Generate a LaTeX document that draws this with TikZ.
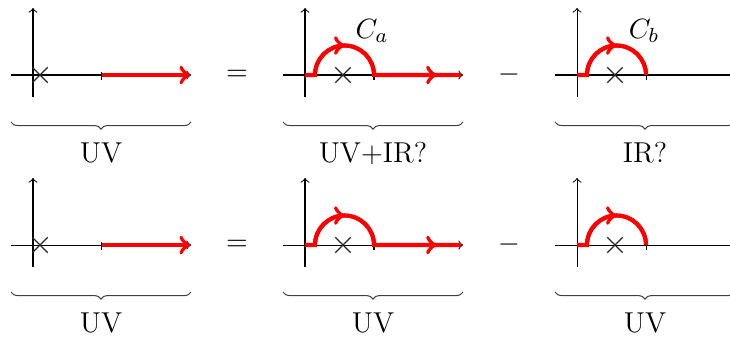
\documentclass[tikz,border=0pt]{standalone}
\usepackage{amsmath}
\usetikzlibrary{shapes.misc,decorations.pathreplacing,decorations.markings}
\tikzset{
axis/.style={black,line width=0.4pt,->},
tickmark/.style={black,line width=0.4pt},
contour/.style={red,line width=1.6pt},
midarrow/.style={postaction={decorate},decoration={markings,mark=at position #1 with {\arrow{>}}}},
midarrow/.default=0.5,
pole/.style={draw=black!85,cross out,minimum size=5.5pt,inner sep=0pt,line width=0.5pt},
brace/.style={decorate,decoration={brace,mirror,amplitude=2.8pt},black!75,line width=0.4pt},
blabel/.style={font=\fontsize{11.3}{13.5}\selectfont},
clabel/.style={font=\fontsize{11.3}{13.5}\selectfont}
}

\begin{document}
\begin{tikzpicture}[x=0.138cm,y=0.138cm]
\useasboundingbox (0,-26.1) rectangle (73,7.5);

% top row
\begin{scope}[shift={(3.3,0)}]
\draw[axis] (-2.2,0) -- (15.8,0);
\draw[axis] (0,-2.2) -- (0,6.7);
\draw[tickmark] (6.85,0.3) -- (6.85,-0.5);
\node[pole] (pa1) at (0.7,0) {};
\draw[contour,->] (6.85,0) -- (15.7,0);
\draw[brace] (-2.2,-4.7) -- (15.8,-4.7);
\node[blabel] (la1) at (6.8,-7.8) {UV};
\end{scope}
\node[blabel] (eqa) at (23.7,0) {$=$};
\begin{scope}[shift={(30.5,0)}]
\draw[axis] (-2.2,0) -- (15.8,0);
\draw[axis] (0,-2.2) -- (0,6.7);
\draw[tickmark] (6.9,0.3) -- (6.9,-0.5);
\node[pole] (pa2) at (3.8,0) {};
\draw[contour] (0,0) -- (1,0) arc[start angle=180,end angle=0,radius=2.95] -- (15.6,0);
\draw[contour,midarrow] (1,0) arc[start angle=180,end angle=0,radius=2.95];
\draw[contour,midarrow=0.72] (6.9,0) -- (15.6,0);
\node[clabel] (ca) at (6.7,4.4) {$C_a$};
\draw[brace] (-2.2,-4.7) -- (15.8,-4.7);
\node[blabel] (la2) at (6.8,-7.8) {UV+IR?};
\end{scope}
\node[blabel] (mia) at (50.9,0) {$-$};
\begin{scope}[shift={(57.7,0)}]
\draw[axis] (-2.2,0) -- (15.8,0);
\draw[axis] (0,-2.2) -- (0,6.7);
\draw[tickmark] (6.9,0.3) -- (6.9,-0.5);
\node[pole] (pa3) at (3.8,0) {};
\draw[contour] (0,0) -- (1,0) arc[start angle=180,end angle=0,radius=2.95];
\draw[contour,midarrow] (1,0) arc[start angle=180,end angle=0,radius=2.95];
\node[clabel] (cb) at (6.7,4.4) {$C_b$};
\draw[brace] (-2.2,-4.7) -- (15.8,-4.7);
\node[blabel] (la3) at (6.8,-7.8) {IR?};
\end{scope}

% bottom row
\begin{scope}[shift={(3.3,-17)}]
\draw[axis] (-2.2,0) -- (15.8,0);
\draw[axis] (0,-2.2) -- (0,6.7);
\draw[tickmark] (6.85,0.3) -- (6.85,-0.5);
\node[pole] (pb1) at (0.7,0) {};
\draw[contour,->] (6.85,0) -- (15.7,0);
\draw[brace] (-2.2,-4.7) -- (15.8,-4.7);
\node[blabel] (lb1) at (6.8,-7.8) {UV};
\end{scope}
\node[blabel] (eqb) at (23.7,-17) {$=$};
\begin{scope}[shift={(30.5,-17)}]
\draw[axis] (-2.2,0) -- (15.8,0);
\draw[axis] (0,-2.2) -- (0,6.7);
\draw[tickmark] (6.9,0.3) -- (6.9,-0.5);
\node[pole] (pb2) at (3.8,0) {};
\draw[contour] (0,0) -- (1,0) arc[start angle=180,end angle=0,radius=2.95] -- (15.6,0);
\draw[contour,midarrow] (1,0) arc[start angle=180,end angle=0,radius=2.95];
\draw[contour,midarrow=0.72] (6.9,0) -- (15.6,0);
\draw[brace] (-2.2,-4.7) -- (15.8,-4.7);
\node[blabel] (lb2) at (6.8,-7.8) {UV};
\end{scope}
\node[blabel] (mib) at (50.9,-17) {$-$};
\begin{scope}[shift={(57.7,-17)}]
\draw[axis] (-2.2,0) -- (15.8,0);
\draw[axis] (0,-2.2) -- (0,6.7);
\draw[tickmark] (6.9,0.3) -- (6.9,-0.5);
\node[pole] (pb3) at (3.8,0) {};
\draw[contour] (0,0) -- (1,0) arc[start angle=180,end angle=0,radius=2.95];
\draw[contour,midarrow] (1,0) arc[start angle=180,end angle=0,radius=2.95];
\draw[brace] (-2.2,-4.7) -- (15.8,-4.7);
\node[blabel] (lb3) at (6.8,-7.8) {UV};
\end{scope}
\end{tikzpicture}
\end{document}
